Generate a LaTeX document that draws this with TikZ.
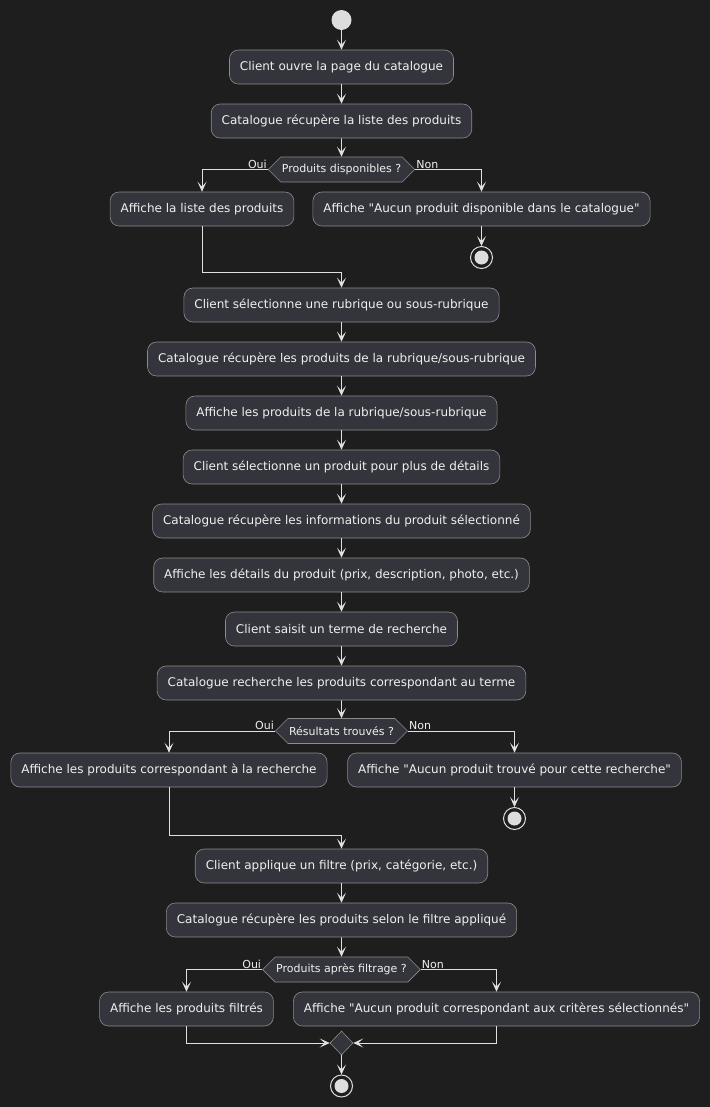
\documentclass[tikz,border=0pt]{standalone}
\usepackage{fontspec}
\setmainfont{DejaVu Sans}[Ligatures=TeXOff]
\usetikzlibrary{arrows.meta,shapes.symbols,shapes.geometric}
\definecolor{bg}{HTML}{1E1E1E}
\definecolor{boxfill}{HTML}{34343C}
\definecolor{boxline}{HTML}{8C8C8C}
\definecolor{wire}{HTML}{E0E0E0}
\definecolor{txt}{HTML}{F0F0F0}
\definecolor{dot}{HTML}{DDDDDD}
\newcommand{\dq}{{\char34}}
\tikzset{
 act/.style={draw=boxline, fill=boxfill, rounded corners=9bp, line width=0.6bp, minimum height=34bp, inner xsep=10.5bp, inner ysep=0pt, text=txt, font=\fontsize{12bp}{14bp}\selectfont},
 dec/.style={signal, signal to=west and east, signal pointer angle=90, draw=boxline, fill=boxfill, line width=0.6bp, minimum height=25bp, inner xsep=1bp, inner ysep=0pt, text=txt, font=\fontsize{11bp}{13bp}\selectfont},
 lbl/.style={text=txt, font=\fontsize{11bp}{13bp}\selectfont, inner sep=1bp},
 flow/.style={draw=wire, line width=0.8bp, -{Stealth[length=10bp,width=9bp,inset=5bp]}},
 startdot/.style={circle, fill=dot, minimum size=20bp, inner sep=0pt},
 stopdot/.style={circle, draw=dot, line width=1bp, fill=bg, minimum size=22bp, inner sep=0pt, path picture={\fill[dot] (path picture bounding box.center) circle (7bp);}},
 mergedot/.style={diamond, draw=boxline, fill=boxfill, line width=0.6bp, minimum width=23bp, minimum height=24bp, inner sep=0pt},
}
\begin{document}
\begin{tikzpicture}[x=1bp,y=-1bp]
\fill[bg] (0,0) rectangle (710,1107);
\useasboundingbox (0,0) rectangle (710,1107);

\node[startdot] (start) at (341.5,20) {};
\node[act] (a1) at (341.5,67) {Client ouvre la page du catalogue};
\node[act] (a2) at (341.5,121) {Catalogue récupère la liste des produits};
\node[dec] (d1) at (341.5,169.5) {Produits disponibles ?};
\node[lbl, anchor=south east] (o1) at (d1.west) {Oui};
\node[lbl, anchor=south west] (n1) at (d1.east) {Non};
\node[act] (a3) at (202,209) {Affiche la liste des produits};
\node[act] (a4) at (481.5,209) {Affiche \dq Aucun produit disponible dans le catalogue\dq};
\node[stopdot] (e1) at (481.5,257.5) {};
\coordinate (j1) at (341.5,272);

\node[act] (a5) at (341.5,305) {Client sélectionne une rubrique ou sous-rubrique};
\node[act] (a6) at (341.5,359) {Catalogue récupère les produits de la rubrique/sous-rubrique};
\node[act] (a7) at (341.5,413) {Affiche les produits de la rubrique/sous-rubrique};
\node[act] (a8) at (341.5,467) {Client sélectionne un produit pour plus de détails};
\node[act] (a9) at (341.5,521) {Catalogue récupère les informations du produit sélectionné};
\node[act] (a10) at (341.5,575) {Affiche les détails du produit (prix, description, photo, etc.)};
\node[act] (a11) at (341.5,629) {Client saisit un terme de recherche};
\node[act] (a12) at (341.5,683) {Catalogue recherche les produits correspondant au terme};
\node[dec] (d2) at (341.5,731) {Résultats trouvés ?};
\node[lbl, anchor=south east] (o2) at (d2.west) {Oui};
\node[lbl, anchor=south west] (n2) at (d2.east) {Non};
\node[act] (a13) at (169,770) {Affiche les produits correspondant à la recherche};
\node[act] (a14) at (514.5,770) {Affiche \dq Aucun produit trouvé pour cette recherche\dq};
\node[stopdot] (e2) at (514.5,818.5) {};
\coordinate (j2) at (341.5,835);

\node[act] (a15) at (341.5,866) {Client applique un filtre (prix, catégorie, etc.)};
\node[act] (a16) at (341.5,920) {Catalogue récupère les produits selon le filtre appliqué};
\node[dec] (d3) at (341.5,969.5) {Produits après filtrage ?};
\node[lbl, anchor=south east] (o3) at (d3.west) {Oui};
\node[lbl, anchor=south west] (n3) at (d3.east) {Non};
\node[act] (a17) at (186.5,1009) {Affiche les produits filtrés};
\node[act] (a18) at (496.5,1009) {Affiche \dq Aucun produit correspondant aux critères sélectionnés\dq};
\node[mergedot] (m) at (341.5,1043) {};
\node[stopdot] (e3) at (341.5,1086) {};

\draw[flow] (start) -- (a1);
\draw[flow] (a1) -- (a2);
\draw[flow] (a2) -- (d1);
\draw[flow] (d1.west) -| (a3.north);
\draw[flow] (d1.east) -| (a4.north);
\draw[flow] (a4) -- (e1);
\draw[flow] (a3.south) |- (j1) -- (a5);
\draw[flow] (a5) -- (a6);
\draw[flow] (a6) -- (a7);
\draw[flow] (a7) -- (a8);
\draw[flow] (a8) -- (a9);
\draw[flow] (a9) -- (a10);
\draw[flow] (a10) -- (a11);
\draw[flow] (a11) -- (a12);
\draw[flow] (a12) -- (d2);
\draw[flow] (d2.west) -| (a13.north);
\draw[flow] (d2.east) -| (a14.north);
\draw[flow] (a14) -- (e2);
\draw[flow] (a13.south) |- (j2) -- (a15);
\draw[flow] (a15) -- (a16);
\draw[flow] (a16) -- (d3);
\draw[flow] (d3.west) -| (a17.north);
\draw[flow] (d3.east) -| (a18.north);
\draw[flow] (a17.south) |- (m.west);
\draw[flow] (a18.south) |- (m.east);
\draw[flow] (m) -- (e3);
\end{tikzpicture}
\end{document}
